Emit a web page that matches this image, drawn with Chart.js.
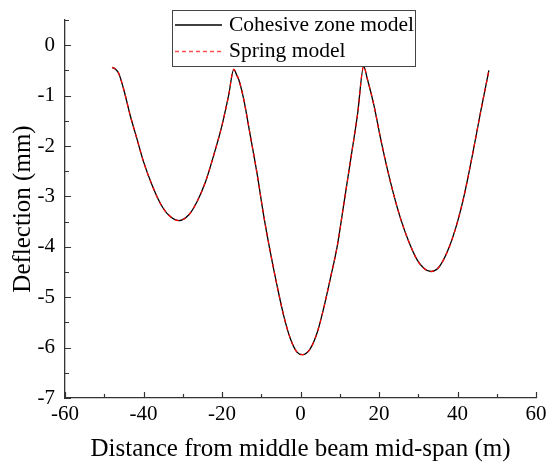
<!DOCTYPE html>
<html>
<head>
<meta charset="utf-8">
<script src="https://cdn.jsdelivr.net/npm/chart.js@4/dist/chart.umd.min.js"></script>
<style>
  body { margin: 0; background: #fff; }
  canvas { display: block; }
</style>
</head>
<body>
<canvas id="deflexao" width="547" height="464"></canvas>
<script>
// Posição ao longo da viga (m)
const distancia = [
  -48.0, -47.2, -46.3, -45.1, -43.4, -41.7, -40.0, -37.8, -35.7, -33.6,
  -31.0, -28.5, -26.4, -24.2, -22.1, -20.0, -18.3, -17.0, -16.2, -15.7,
  -14.5, -12.8, -11.0, -9.4, -7.7, -6.0, -4.3, -2.6, -0.9, 0.5,
  2.5, 4.3, 5.9, 7.6, 9.4, 11.0, 12.7, 14.5, 16.1, 17.0,
  18.7, 20.4, 22.1, 23.8, 25.5, 27.6, 29.8, 31.5, 33.2, 35.3,
  37.4, 39.5, 41.7, 43.8, 45.9, 48.0
];

// Deflexão (mm) - modelo de zona coesiva
const coesivo = [
  -0.44, -0.47, -0.56, -0.86, -1.39, -1.85, -2.31, -2.78, -3.14, -3.37,
  -3.48, -3.37, -3.11, -2.71, -2.18, -1.59, -0.99, -0.48, -0.60, -0.69,
  -1.06, -1.79, -2.58, -3.37, -4.10, -4.76, -5.36, -5.82, -6.09, -6.14,
  -6.02, -5.69, -5.22, -4.63, -3.97, -3.17, -2.31, -1.39, -0.42, -0.66,
  -1.19, -1.85, -2.45, -2.98, -3.44, -3.90, -4.27, -4.43, -4.49, -4.40,
  -4.10, -3.64, -2.98, -2.18, -1.32, -0.50
];

// Deflexão (mm) - modelo de molas
const mola = [
  -0.44, -0.47, -0.56, -0.86, -1.39, -1.85, -2.31, -2.78, -3.14, -3.37,
  -3.48, -3.37, -3.11, -2.71, -2.18, -1.59, -0.99, -0.48, -0.60, -0.69,
  -1.06, -1.79, -2.58, -3.37, -4.10, -4.76, -5.36, -5.82, -6.09, -6.14,
  -6.02, -5.69, -5.22, -4.63, -3.97, -3.17, -2.31, -1.39, -0.42, -0.66,
  -1.19, -1.85, -2.45, -2.98, -3.44, -3.90, -4.27, -4.43, -4.49, -4.40,
  -4.10, -3.64, -2.98, -2.18, -1.32, -0.50
];

const ticksX = [-60, -40, -20, 0, 20, 40, 60];
const ticksY = [-7, -6, -5, -4, -3, -2, -1, 0];
const nomesSeries = ["Cohesive zone model", "Spring model"];

const serif = "'Liberation Serif', 'Times New Roman', serif";
const corEixo = "#333";

// Marcas de escala para dentro (principais e secundárias)
const marcasInternas = {
  id: "marcasInternas",
  afterDraw(chart) {
    const { ctx, chartArea, scales } = chart;
    ctx.save();
    ctx.strokeStyle = corEixo;
    ctx.lineWidth = 1.2;
    ctx.beginPath();
    for (let v = -60; v <= 60; v += 10) {
      const px = Math.round(scales.x.getPixelForValue(v)) + 0.5;
      const len = v % 20 === 0 ? 6 : 4;
      ctx.moveTo(px, chartArea.bottom);
      ctx.lineTo(px, chartArea.bottom - len);
    }
    for (let v = -7; v <= 0.5001; v += 0.5) {
      const py = Math.round(scales.y.getPixelForValue(v)) + 0.5;
      const len = Number.isInteger(v) ? 6 : 4;
      ctx.moveTo(chartArea.left, py);
      ctx.lineTo(chartArea.left + len, py);
    }
    ctx.stroke();
    ctx.restore();
  }
};

// Legenda com moldura dentro da área do gráfico
const legendaCaixa = {
  id: "legendaCaixa",
  afterDraw(chart) {
    const { ctx } = chart;
    ctx.save();
    ctx.fillStyle = "#fff";
    ctx.fillRect(172.5, 10.5, 243, 56);
    ctx.strokeStyle = "#444";
    ctx.lineWidth = 1;
    ctx.strokeRect(172.5, 10.5, 243, 56);

    ctx.lineWidth = 1.3;
    ctx.strokeStyle = "#000";
    ctx.beginPath();
    ctx.moveTo(175, 25);
    ctx.lineTo(222, 25);
    ctx.stroke();

    ctx.lineWidth = 1.5;
    ctx.strokeStyle = "#ff5050";
    ctx.setLineDash([4, 3]);
    ctx.beginPath();
    ctx.moveTo(175, 51.5);
    ctx.lineTo(222, 51.5);
    ctx.stroke();
    ctx.setLineDash([]);

    ctx.fillStyle = "#000";
    ctx.font = "21.5px " + serif;
    ctx.textBaseline = "middle";
    ctx.fillText(nomesSeries[0], 229, 25);
    ctx.fillText(nomesSeries[1], 229, 51);
    ctx.restore();
  }
};

const ctx = document.getElementById("deflexao").getContext("2d");

new Chart(ctx, {
  type: "line",
  data: {
    datasets: [
      {
        label: nomesSeries[0],
        data: distancia.map((x, i) => ({ x, y: coesivo[i] })),
        borderColor: "#000",
        borderWidth: 1.3,
        pointRadius: 0,
        cubicInterpolationMode: "monotone",
        order: 2
      },
      {
        label: nomesSeries[1],
        data: distancia.map((x, i) => ({ x, y: mola[i] })),
        borderColor: "#ff0000",
        borderWidth: 1.2,
        borderDash: [4, 4],
        pointRadius: 0,
        cubicInterpolationMode: "monotone",
        order: 1
      }
    ]
  },
  options: {
    responsive: false,
    animation: false,
    layout: { padding: { top: 20, right: 11, left: 0, bottom: 0 } },
    plugins: {
      legend: { display: false },
      tooltip: { enabled: false }
    },
    scales: {
      x: {
        type: "linear",
        min: -60,
        max: 60,
        afterBuildTicks: s => { s.ticks = ticksX.map(v => ({ value: v })); },
        afterFit: s => { s.height = 66; s.paddingLeft = 0; s.paddingRight = 0; },
        grid: { display: false, drawTicks: false },
        border: { color: corEixo, width: 1.3 },
        ticks: {
          color: "#000",
          font: { family: serif, size: 21 },
          padding: 4,
          maxRotation: 0
        },
        title: {
          display: true,
          text: "Distance from middle beam mid-span (m)",
          color: "#000",
          font: { family: serif, size: 25 },
          padding: { top: 2, bottom: 0 }
        }
      },
      y: {
        type: "linear",
        min: -7,
        max: 0.5,
        afterBuildTicks: s => { s.ticks = ticksY.map(v => ({ value: v })); },
        afterFit: s => { s.width = 65; s.paddingTop = 0; s.paddingBottom = 0; },
        grid: { display: false, drawTicks: false },
        border: { color: corEixo, width: 1.3 },
        ticks: {
          color: "#000",
          font: { family: serif, size: 21 },
          padding: 10
        },
        title: {
          display: true,
          text: "Deflection (mm)",
          color: "#000",
          font: { family: serif, size: 25 },
          padding: { top: 8, bottom: 0 }
        }
      }
    }
  },
  plugins: [marcasInternas, legendaCaixa]
});
</script>
</body>
</html>
